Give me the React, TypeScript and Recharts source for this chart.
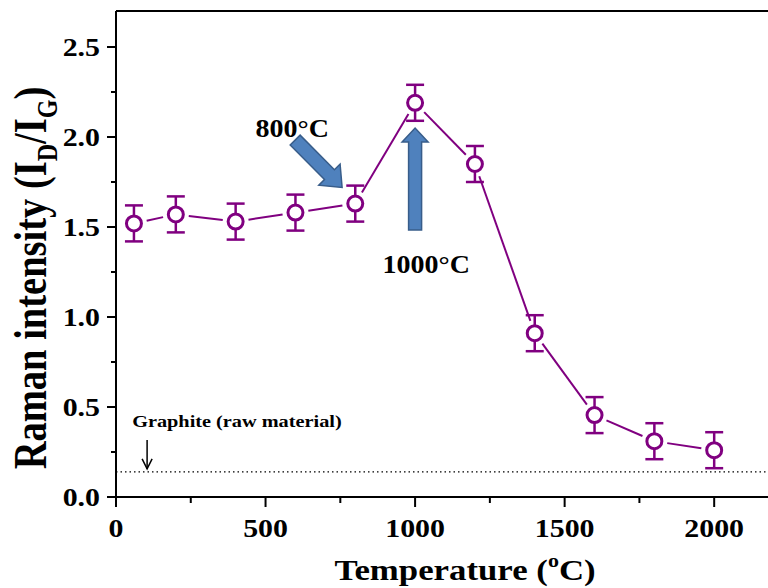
import {
  ComposedChart,
  Scatter,
  ErrorBar,
  XAxis,
  YAxis,
  ReferenceLine,
  ReferenceDot,
  Label,
} from 'recharts'

const temps = [60, 200, 400, 600, 800, 1000, 1200, 1400, 1600, 1800, 2000]
const ratio = [1.52, 1.57, 1.53, 1.58, 1.63, 2.19, 1.85, 0.91, 0.455, 0.31, 0.26]
const errs = [0.1, 0.1, 0.1, 0.1, 0.1, 0.1, 0.1, 0.1, 0.1, 0.1, 0.1]
const xTicks = [0, 250, 500, 750, 1000, 1250, 1500, 1750, 2000]
const yTicks = [0, 0.25, 0.5, 0.75, 1, 1.25, 1.5, 1.75, 2, 2.25, 2.5]
const graphiteLevel = 0.14

const data = temps.map((t, i) => ({ t, v: ratio[i], err: errs[i] }))

const FONT = "'Liberation Serif', 'Times New Roman', serif"
const PURPLE = '#800080'

function SText({ x, y, sx = 1, sy = 1, rot = 0, size, anchor = 'middle', children }: any) {
  return (
    <text
      transform={`translate(${x} ${y}) rotate(${rot}) scale(${sx} ${sy})`}
      fontFamily={FONT}
      fontWeight="bold"
      fontSize={size}
      textAnchor={anchor}
      fill="#000"
    >
      {children}
    </text>
  )
}

function XTick({ x, y, payload }: any) {
  const major = payload.value % 500 === 0
  return (
    <g>
      <line x1={x} y1={y} x2={x} y2={y + (major ? 10 : 6)} stroke="#000" strokeWidth={2} />
      {major && (
        <SText x={x} y={y + 40} sx={1.15} size={26}>
          {payload.value}
        </SText>
      )}
    </g>
  )
}

function YTick({ x, y, payload }: any) {
  const v = payload.value
  const major = Math.abs(v * 2 - Math.round(v * 2)) < 1e-6
  return (
    <g>
      <line x1={x} y1={y} x2={x - (major ? 9 : 5)} y2={y} stroke="#000" strokeWidth={2} />
      {major && (
        <SText x={x - 16} y={y + 9} sx={1.15} size={26} anchor="end">
          {v.toFixed(1)}
        </SText>
      )}
    </g>
  )
}

function blockArrow(shaft: number, head: number, headLen: number) {
  return (p: any) => {
    const { x1, y1, x2, y2 } = p
    const dx = x2 - x1
    const dy = y2 - y1
    const len = Math.hypot(dx, dy) || 1
    const ux = dx / len
    const uy = dy / len
    const nx = -uy
    const ny = ux
    const bx = x2 - ux * headLen
    const by = y2 - uy * headLen
    const pts = [
      [x1 + (nx * shaft) / 2, y1 + (ny * shaft) / 2],
      [bx + (nx * shaft) / 2, by + (ny * shaft) / 2],
      [bx + (nx * head) / 2, by + (ny * head) / 2],
      [x2, y2],
      [bx - (nx * head) / 2, by - (ny * head) / 2],
      [bx - (nx * shaft) / 2, by - (ny * shaft) / 2],
      [x1 - (nx * shaft) / 2, y1 - (ny * shaft) / 2],
    ]
    return (
      <polygon
        points={pts.map((q) => q.join(',')).join(' ')}
        fill="#4F81BD"
        stroke="#385D8A"
        strokeWidth={1.5}
      />
    )
  }
}

function thinArrow(p: any) {
  const { x1, y1, x2, y2 } = p
  return (
    <g stroke="#000" strokeWidth={1.5} fill="none">
      <line x1={x1} y1={y1} x2={x2} y2={y2} />
      <polyline points={`${x2 - 5},${y2 - 10} ${x2},${y2} ${x2 + 5},${y2 - 10}`} />
    </g>
  )
}

// connecting segment between two markers, trimmed so it stops short of each circle
function gapLine(p: any) {
  const { x1, y1, x2, y2 } = p
  const len = Math.hypot(x2 - x1, y2 - y1) || 1
  const gap = 13
  const ux = (x2 - x1) / len
  const uy = (y2 - y1) / len
  return (
    <line
      x1={x1 + ux * gap}
      y1={y1 + uy * gap}
      x2={x2 - ux * gap}
      y2={y2 - uy * gap}
      stroke={PURPLE}
      strokeWidth={2}
    />
  )
}

const textAt = (content: any, size: number, anchor = 'middle', sx = 1.12) => (p: any) => (
  <SText x={p.cx} y={p.cy} sx={sx} size={size} anchor={anchor}>
    {content}
  </SText>
)

const marker = (p: any) => (
  <circle cx={p.cx} cy={p.cy} r={7.5} fill="#fff" stroke={PURPLE} strokeWidth={3} />
)

export default function App() {
  return (
    <div
      style={{
        position: 'absolute',
        left: 0,
        top: 0,
        width: 768,
        height: 588,
        overflow: 'hidden',
        background: '#fff',
      }}
    >
      <ComposedChart
        width={790}
        height={588}
        data={data}
        margin={{ top: 11, right: 16, bottom: 0, left: 0 }}
      >
        <XAxis
          dataKey="t"
          type="number"
          domain={[0, 2200]}
          ticks={xTicks}
          interval={0}
          height={91}
          tickSize={0}
          tickMargin={0}
          tick={<XTick />}
          tickLine={false}
          axisLine={{ stroke: '#000', strokeWidth: 2 }}
        >
          <Label
            content={(lp: any) => {
              const vb = lp.viewBox || { x: 116, y: 497 }
              return (
                <SText x={vb.x + 349} y={vb.y + 83} sx={1.16} size={30}>
                  Temperature (
                  <tspan dy={-13} fontSize={19}>
                    o
                  </tspan>
                  <tspan dy={13}>C)</tspan>
                </SText>
              )
            }}
          />
        </XAxis>
        <YAxis
          type="number"
          domain={[0, 2.7]}
          ticks={yTicks}
          interval={0}
          width={116}
          tickSize={0}
          tickMargin={0}
          tick={<YTick />}
          tickLine={false}
          axisLine={{ stroke: '#000', strokeWidth: 2 }}
        >
          <Label
            content={(lp: any) => {
              const vb = lp.viewBox || { x: 0, y: 11 }
              return (
                <SText x={vb.x + 46} y={vb.y + 267} rot={-90} sy={1.22} size={38.5}>
                  Raman intensity (I
                  <tspan dy={9} fontSize={24}>
                    D
                  </tspan>
                  <tspan dy={-9}>/I</tspan>
                  <tspan dy={9} fontSize={24}>
                    G
                  </tspan>
                  <tspan dy={-9}>)</tspan>
                </SText>
              )
            }}
          />
        </YAxis>

        <ReferenceLine y={2.7} stroke="#000" strokeWidth={2} />
        <ReferenceLine
          y={graphiteLevel}
          stroke="#000"
          strokeWidth={1.2}
          strokeDasharray="1.5 3"
        />

        {data.slice(1).map((d, i) => (
          <ReferenceLine
            key={'seg' + i}
            segment={[
              { x: data[i].t, y: data[i].v },
              { x: d.t, y: d.v },
            ]}
            shape={gapLine}
          />
        ))}

        <Scatter dataKey="v" shape={marker} isAnimationActive={false}>
          <ErrorBar dataKey="err" direction="y" width={9} stroke={PURPLE} strokeWidth={2.5} />
        </Scatter>

        <ReferenceLine
          segment={[
            { x: 599, y: 1.983 },
            { x: 756, y: 1.72 },
          ]}
          shape={blockArrow(14, 30, 18)}
        />
        <ReferenceLine
          segment={[
            { x: 1000, y: 1.483 },
            { x: 1000, y: 2.05 },
          ]}
          shape={blockArrow(13, 26, 14)}
        />
        <ReferenceLine
          segment={[
            { x: 104, y: 0.317 },
            { x: 104, y: 0.156 },
          ]}
          shape={thinArrow}
        />

        <ReferenceDot x={589} y={2.0} r={0} shape={textAt('800°C', 25)} />
        <ReferenceDot x={1037} y={1.245} r={0} shape={textAt('1000°C', 25)} />
        <ReferenceDot
          x={54}
          y={0.39}
          r={0}
          shape={textAt('Graphite (raw material)', 17.5, 'start', 1.16)}
        />
      </ComposedChart>
    </div>
  )
}
